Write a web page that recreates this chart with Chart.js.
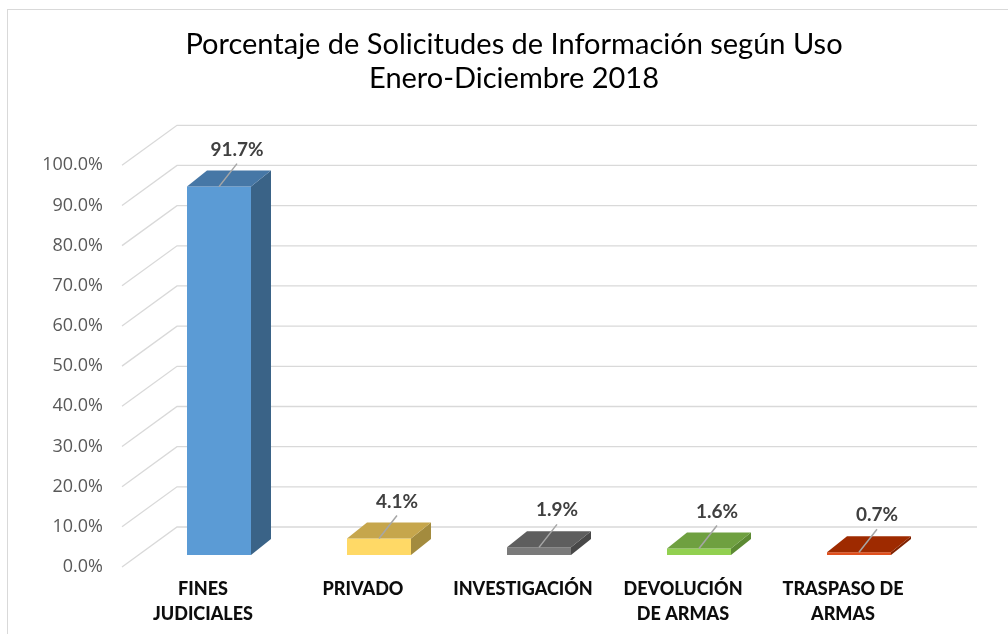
<!DOCTYPE html>
<html>
<head>
<meta charset="utf-8">
<script src="https://cdn.jsdelivr.net/npm/chart.js@4.4.1/dist/chart.umd.min.js"></script>
<style>
html,body{margin:0;padding:0;background:#fff;}
#wrap{width:1008px;height:634px;position:relative;}
</style>
</head>
<body>
<div id="wrap"><canvas id="c" width="1008" height="634"></canvas></div>
<script>
const titleLines = ['Porcentaje de Solicitudes de Información según Uso', 'Enero-Diciembre 2018'];
const categories = [['FINES', 'JUDICIALES'], 'PRIVADO', 'INVESTIGACIÓN', ['DEVOLUCIÓN', 'DE ARMAS'], ['TRASPASO DE', 'ARMAS']];
const percentages = [91.7, 4.1, 1.9, 1.6, 0.7];
const axisMin = 0;
const axisMax = 100;
const axisStep = 10;

const frontColors = ['#5B9BD5', '#FFD966', '#7A7A7A', '#92D050', '#E0501E'];
const topColors = ['#4677A6', '#C6A64C', '#5E5E5E', '#6FA040', '#9E2A00'];
const sideColors = ['#3A6387', '#A38B3E', '#484848', '#5C8A33', '#7F2200'];

const DX = 20, DY = -16;          // bar depth
const WDX = 55, WDY = -40;        // wall depth
const FRONT_OFF = 12;             // floor front vs bar front

const threeD = {
  id: 'threeD',
  beforeDraw(chart) {
    const ctx = chart.ctx;
    const ca = chart.chartArea;
    const y = chart.scales.y;
    ctx.save();
    ctx.fillStyle = '#fff';
    ctx.fillRect(0, 0, chart.width, chart.height);
    ctx.strokeStyle = '#D9D9D9';
    ctx.lineWidth = 1;
    ctx.strokeRect(7.5, 9.5, 1200, 800);
    ctx.lineWidth = 1.3;
    y.ticks.forEach(t => {
      const yf = y.getPixelForValue(t.value) + FRONT_OFF;
      const x0 = ca.left - 17;
      ctx.beginPath();
      ctx.moveTo(x0, yf);
      ctx.lineTo(x0 + WDX, yf + WDY);
      ctx.lineTo(ca.right + 38, yf + WDY);
      ctx.stroke();
    });
    ctx.restore();
  },
  afterDatasetsDraw(chart) {
    const ctx = chart.ctx;
    const meta = chart.getDatasetMeta(0);
    ctx.save();
    meta.data.forEach((bar, i) => {
      const p = bar.getProps(['x', 'y', 'base', 'width'], true);
      const l = p.x - p.width / 2, r = p.x + p.width / 2;
      const top = p.y, bot = p.base;
      ctx.fillStyle = sideColors[i];
      ctx.beginPath();
      ctx.moveTo(r, top); ctx.lineTo(r + DX, top + DY); ctx.lineTo(r + DX, bot + DY); ctx.lineTo(r, bot);
      ctx.closePath(); ctx.fill();
      ctx.fillStyle = topColors[i];
      ctx.beginPath();
      ctx.moveTo(l, top); ctx.lineTo(l + DX, top + DY); ctx.lineTo(r + DX, top + DY); ctx.lineTo(r, top);
      ctx.closePath(); ctx.fill();
    });
    meta.data.forEach((bar, i) => {
      const p = bar.getProps(['x', 'y'], true);
      ctx.strokeStyle = '#A6A6A6';
      ctx.lineWidth = 1.5;
      ctx.beginPath();
      ctx.moveTo(p.x, p.y);
      ctx.lineTo(p.x + 18, p.y - 23);
      ctx.stroke();
      ctx.fillStyle = '#404040';
      ctx.font = 'bold 19px Lato';
      ctx.textAlign = 'center';
      ctx.textBaseline = 'middle';
      ctx.fillText(percentages[i].toFixed(1) + '%', p.x + 18, p.y - 37);
    });
    ctx.restore();
  }
};

new Chart(document.getElementById('c'), {
  type: 'bar',
  data: {
    labels: categories,
    datasets: [{
      data: percentages,
      backgroundColor: frontColors,
      borderWidth: 0,
      barPercentage: 0.4,
      categoryPercentage: 1.0
    }]
  },
  options: {
    responsive: false,
    animation: false,
    layout: { padding: { left: 20, right: 0, top: 0, bottom: 0 } },
    plugins: {
      legend: { display: false },
      tooltip: { enabled: false },
      title: {
        display: true,
        text: titleLines,
        color: '#000',
        font: { family: 'Lato', size: 29, weight: 'normal', lineHeight: 1.16 },
        padding: { top: 28, bottom: 58 }
      }
    },
    scales: {
      x: {
        grid: { display: false, drawTicks: false },
        border: { display: false },
        ticks: {
          color: '#0D0D0D',
          font: { family: 'Lato', size: 18, weight: '900', lineHeight: 1.39 },
          padding: 22,
          labelOffset: -16,
          maxRotation: 0,
          autoSkip: false
        },
        afterFit(s) { s.height = 79; }
      },
      y: {
        min: axisMin,
        max: axisMax,
        grid: { display: false, drawTicks: false },
        border: { display: false },
        ticks: {
          stepSize: axisStep,
          color: '#595959',
          font: { family: 'Open Sans', size: 18 },
          padding: 36,
          labelOffset: FRONT_OFF,
          callback: v => v.toFixed(1) + '%'
        },
        afterFit(s) { s.width = 119; }
      },
      yRight: {
        position: 'right',
        min: axisMin,
        max: axisMax,
        grid: { display: false, drawTicks: false },
        border: { display: false },
        ticks: { display: false },
        afterFit(s) { s.width = 69; }
      }
    }
  },
  plugins: [threeD]
});
</script>
</body>
</html>
